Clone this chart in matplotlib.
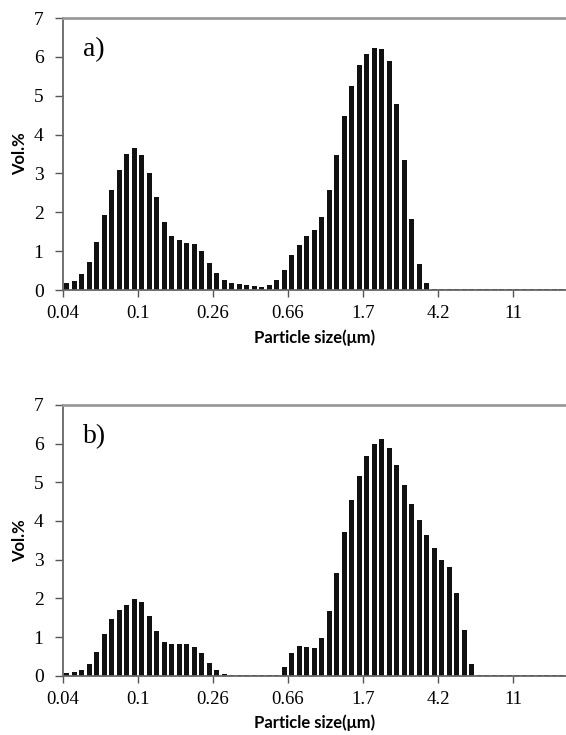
import numpy as np
import matplotlib
matplotlib.use("Agg")
from matplotlib import pyplot as plt

# particle size distribution, one bar per size class (log-spaced classes)
tick_labels = ["0.04", "0.1", "0.26", "0.66", "1.7", "4.2", "11"]

vol_a = [0.17, 0.23, 0.40, 0.72, 1.24, 1.93, 2.57, 3.09, 3.50, 3.66,
         3.47, 3.02, 2.40, 1.76, 1.39, 1.29, 1.20, 1.19, 1.00, 0.70,
         0.45, 0.25, 0.18, 0.15, 0.13, 0.11, 0.09, 0.12, 0.25, 0.51,
         0.89, 1.17, 1.39, 1.55, 1.88, 2.57, 3.48, 4.48, 5.26, 5.78,
         6.07, 6.23, 6.19, 5.89, 4.79, 3.34, 1.83, 0.67, 0.17, 0.02,
         0.02, 0.02, 0.02, 0.02, 0.02, 0.02, 0.02, 0.02, 0.02, 0.02,
         0.02, 0.02, 0.02, 0.02, 0.02, 0.02, 0.02, 0.02]

vol_b = [0.06, 0.09, 0.15, 0.29, 0.61, 1.09, 1.47, 1.70, 1.84, 1.98,
         1.90, 1.55, 1.16, 0.88, 0.81, 0.81, 0.81, 0.75, 0.59, 0.34,
         0.15, 0.04, 0.03, 0.03, 0.03, 0.03, 0.03, 0.03, 0.03, 0.23,
         0.58, 0.78, 0.75, 0.72, 0.97, 1.66, 2.65, 3.71, 4.55, 5.16,
         5.67, 5.99, 6.11, 5.89, 5.45, 4.92, 4.45, 4.03, 3.65, 3.30,
         3.00, 2.80, 2.14, 1.17, 0.30, 0.03, 0.02, 0.02, 0.02, 0.02,
         0.02, 0.02, 0.02, 0.02, 0.02, 0.02, 0.02, 0.02]

serif = "Liberation Serif"
sans = "Lato"

fig = plt.figure(figsize=(5.66, 7.35), dpi=100)
ax_a = fig.add_axes([0.1113, 0.6054, 0.8887, 0.3701])
ax_b = fig.add_axes([0.1113, 0.0807, 0.8887, 0.3683])

for ax, vals, tag in [(ax_a, vol_a, "a)"), (ax_b, vol_b, "b)")]:
    x = np.arange(len(vals)) + 0.5
    ax.bar(x, vals, width=0.62, color="#111111", zorder=2)
    ax.set_xlim(0, 67.07)
    ax.set_ylim(0, 7)
    ax.set_yticks(range(8))
    ax.set_yticklabels([str(i) for i in range(8)], fontfamily=serif, fontsize=14)
    ax.set_xticks(np.arange(len(tick_labels)) * 10)
    ax.set_xticklabels(tick_labels, fontfamily=serif, fontsize=13.5)
    ax.tick_params(axis="y", direction="out", length=6, width=1, color="#555555", pad=8)
    ax.tick_params(axis="x", direction="out", length=5, width=1, color="#555555", pad=6)
    for side in ["left", "bottom"]:
        ax.spines[side].set_color("#666666")
        ax.spines[side].set_linewidth(1.3)
    ax.spines["top"].set_color("#999999")
    ax.spines["top"].set_linewidth(2)
    ax.spines["right"].set_visible(False)
    ax.set_ylabel("Vol.%", fontfamily=sans, fontweight="bold", fontsize=12, labelpad=4)
    ax.set_xlabel("Particle size(\u03bcm)", fontfamily=sans, fontweight="bold", fontsize=12, labelpad=5)
    ax.text(0.04, 0.86, tag, transform=ax.transAxes, fontfamily=serif, fontsize=20)

fig.savefig("out.png", dpi=100)
